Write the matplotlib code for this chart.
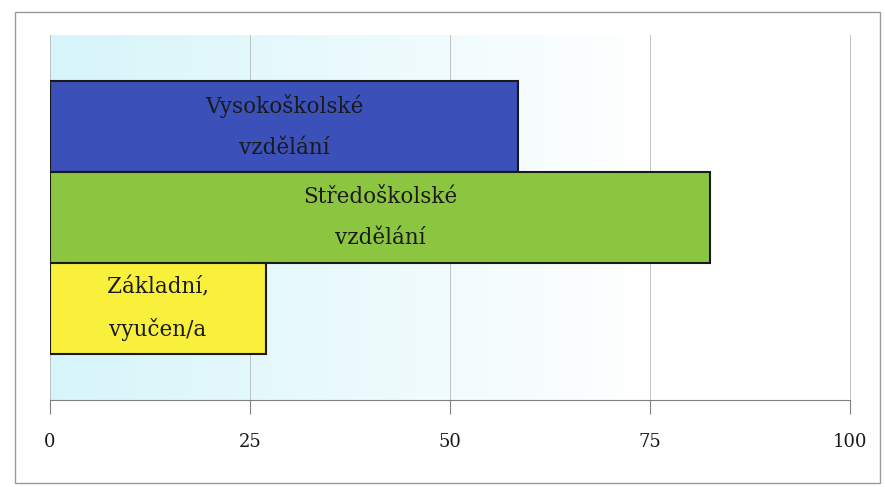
import numpy as np
import matplotlib
matplotlib.use('Agg')
import matplotlib.pyplot as plt
from matplotlib.patches import Rectangle

# data
labels = ['Vysokoškolské\nvzdělání', 'Středoškolské\nvzdělání', 'Základní,\nvyučen/a']
values = [58.5, 82.5, 27.0]
colors = ['#3b50b8', '#8cc640', '#f8f03a']
ticks = [0, 25, 50, 75, 100]

fig = plt.figure(figsize=(8.85, 4.87), dpi=100)
fig.patch.set_facecolor('white')

# outer frame
fig.patches.append(Rectangle((15 / 885, 1 - 483 / 487), 865 / 885, 471 / 487,
                             transform=fig.transFigure, fill=False,
                             edgecolor='#9a9a9a', linewidth=1.0))

ax = fig.add_axes([50 / 885, 1 - 400 / 487, 800 / 885, 365 / 487])

# light cyan background fading to white
grad = np.linspace(0, 1, 256)
grad = np.clip(grad / 0.75, 0, 1)
c0 = np.array([0.84, 0.96, 0.98])
c1 = np.array([1.0, 1.0, 1.0])
img = c0[None, :] * (1 - grad[:, None]) + c1[None, :] * grad[:, None]
ax.imshow(img[None, :, :], extent=[0, 100, 3.0, -1.0], aspect='auto', zorder=0)

for x in ticks:
    ax.axvline(x, color='#b8b8b8', linewidth=0.6, zorder=1, clip_on=False)

ypos = np.arange(len(values))
ax.barh(ypos, values, height=1.0, color=colors, edgecolor='#1a1a1a',
        linewidth=1.5, zorder=2)

for y, v, lab in zip(ypos, values, labels):
    ax.text(v / 2, y, lab, ha='center', va='center', fontsize=15.5,
            family='DejaVu Serif', color='#1a1a1a', linespacing=2.1, zorder=3)

ax.set_xlim(0, 100)
ax.set_ylim(3.0, -1.0)

for s in ['top', 'right', 'left']:
    ax.spines[s].set_visible(False)
ax.spines['bottom'].set_color('#808080')
ax.spines['bottom'].set_linewidth(0.8)

ax.set_yticks([])
ax.set_xticks(ticks)
ax.set_xticklabels([str(t) for t in ticks], fontsize=13, family='DejaVu Serif',
                   color='#1a1a1a')
ax.tick_params(axis='x', length=10, width=0.8, color='#808080', pad=14)

fig.savefig('out.png', dpi=100)
